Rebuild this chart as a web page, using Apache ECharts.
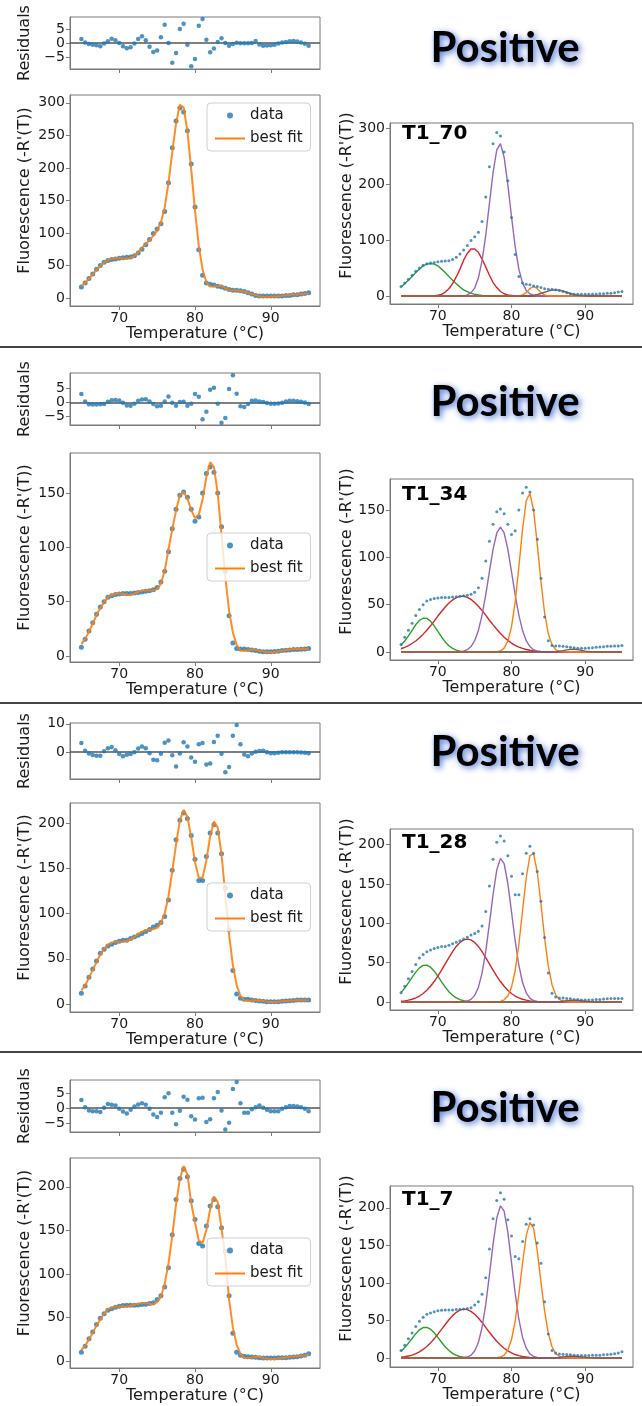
<!DOCTYPE html>
<html><head><meta charset="utf-8">
<script src="https://cdn.jsdelivr.net/npm/echarts@6.0.0/dist/echarts.min.js"></script>
<style>html,body{margin:0;padding:0;background:#fff}#c{width:642px;height:1406px}</style>
</head><body><div id="c"></div><script>
// ---------------- DATA ----------------
const temps = [65,65.5,66,66.5,67,67.5,68,68.5,69,69.5,70,70.5,71,71.5,72,72.5,73,73.5,74,74.5,75,75.5,76,76.5,77,77.5,78,78.5,79,79.5,80,80.5,81,81.5,82,82.5,83,83.5,84,84.5,85,85.5,86,86.5,87,87.5,88,88.5,89,89.5,90,90.5,91,91.5,92,92.5,93,93.5,94,94.5,95];
const xTickValues = [70,80,90];
const sampleNames = ['T1_70','T1_34','T1_28','T1_7'];
const statusText = 'Positive';

// T1_70
const t170Data = [17,23,30,37,44,50,55,57.5,59,60, 61,62,62.5,63,65,69,75,82,90,99, 106,114,133,177,231,272,292,286,257,206, 140,74,35,23,21,20,18,17,15,13, 12,12,11,10,8,6,4,3,3,3, 3,3,3,3,4,4,5,5,6,7, 8];
const t170Fit = [18.4,23.2,29.6,36.4,43.2,48.8,54.8,58.1,60.5,61, 61,60.8,60.6,61.5,64.8,70.4,77.4,83,88.7,95.8, 103.3,116.1,139.5,177,223.9,268.4,297,292.9,256.4,197.7, 134.3,80.2,43.6,24.2,17.7,18,18.4,18.7,15,12, 11.6,12.1,10.9,9.9,7.9,6,4.7,2.5,2,2.1, 2.2,2.4,2.8,3.2,4.4,4.6,5.7,5.5,6.2,6.7, 7];
const t170Resid = [1.4,0.2,-0.4,-0.6,-0.8,-1.2,-0.2,0.6,1.5,1.0, 0,-1.2,-1.9,-1.5,-0.2,1.4,2.4,1.0,-1.3,-3.2, -2.7,2.1,6.5,0,-7.1,-3.6,5.0,6.9,-0.6,-8.3, -5.7,6.2,8.6,1.2,-3.3,-2.0,0.4,1.7,0,-1.0, -0.4,0.1,-0.1,-0.1,-0.1,0,0.7,-0.5,-1.0,-0.9, -0.8,-0.6,-0.2,0.2,0.4,0.6,0.7,0.5,0.2,-0.3, -1.0];
const t170Green = [16,22,28,35,42,48,54,57,58,57, 54,48,42,35,28,22,16,11,8,5, 3,2,1,0.5,0,0,0,0,0,0, 0,0,0,0,0,0,0,0,0,0, 0,0,0,0,0,0,0,0,0,0, 0,0,0,0,0,0,0,0,0,0, 0];
const t170Red = [0,0,0,0,0,0,0,0,0,0.5, 1.5,3,7,13,22,34,48,64,76,84, 84,78,66,52,37,24,15,8,4,2, 1,0,0,0,0,0,0,0,0,0, 0,0,0,0,0,0,0,0,0,0, 0,0,0,0,0,0,0,0,0,0, 0];
const t170Purple = [0,0,0,0,0,0,0,0,0,0, 0,0,0,0,0,0,0,0,2,6, 14,32,63,108,165,221,261,272,248,199, 142,88,48,23,10,4,1,0,0,0, 0,0,0,0,0,0,0,0,0,0, 0,0,0,0,0,0,0,0,0,0, 0];
const t170Orange = [0,0,0,0,0,0,0,0,0,0, 0,0,0,0,0,0,0,0,0,0, 0,0,0,0,0,0,0,0,0,0, 0,0,0.3,2,6,13,17,13,6,2, 0.3,0,0,0,0,0,0,0,0,0, 0,0,0,0,0,0,0,0,0,0, 0];
const t170Brown = [0,0,0,0,0,0,0,0,0,0, 0,0,0,0,0,0,0,0,0,0, 0,0,0,0,0,0,0,0,0,0, 0,0,0,0,0,0,1.5,2.7,4.5,6.7, 8.8,10.4,11,10.4,8.8,6.7,4.5,2.7,1.5,0.7, 0.3,0,0,0,0,0,0,0,0,0, 0];

// T1_34
const t134Data = [8,15.5,23,30.5,38.5,45,50,54,55.5,56.5, 57,57.5,57.5,57.5,58,58.5,59,59.5,60,61, 63,68,78,96,117,135,148,151,146,135, 124,128,150,168,174,169,150,119,78,37, 12,7,6.5,6.5,6,5.5,5,4.5,4,4, 4,4.2,4.5,5,5.2,5.5,6,6,6.3,6.5, 7];
const t134Fit = [10.9,15.8,22.3,29.7,37.7,44.3,49.4,54.2,56.2,57.3, 57.6,57.3,56.4,56.3,57.5,59,60,60.6,60.3,60.4, 61.6,66.8,78.3,98,116.8,133.8,148.1,151.2,144.8,134.5, 126.9,129.9,144,164.7,178.4,174.1,149.5,111.8,72.5,41.7, 21.5,10,5.1,4.8,5.4,6,5.6,4.8,4.1,3.7, 3.5,3.7,4.1,4.8,5.5,6,6.5,6.4,6.5,6.4, 6.4];
const t134Resid = [2.9,0.3,-0.7,-0.8,-0.8,-0.7,-0.6,0.2,0.7,0.8, 0.6,-0.2,-1.1,-1.2,-0.5,0.5,1.0,1.1,0.3,-0.6, -1.4,-1.2,0.3,2.0,-0.2,-1.2,0.1,0.2,-1.2,-0.5, 2.9,1.9,-6.0,-3.3,4.4,5.1,-0.5,-7.2,-5.5,4.7, 9.5,3.0,-1.4,-1.7,-0.6,0.5,0.6,0.3,0.1,-0.3, -0.5,-0.5,-0.4,-0.2,0.3,0.5,0.5,0.4,0.2,-0.1, -0.6];
const t134Green = [7.4,11.7,17,23,29,33.4,35.7,35.5,32.6,27.7, 21.8,15.9,10.7,6.7,3.9,2.1,1,0.4,0.2,0, 0,0,0,0,0,0,0,0,0,0, 0,0,0,0,0,0,0,0,0,0, 0,0,0,0,0,0,0,0,0,0, 0,0,0,0,0,0,0,0,0,0, 0];
const t134Red = [3.5,5,6.7,9,11.7,15,18.9,23,27.7,32.7, 38,42.8,47.5,51.7,55,57.5,58.8,58.9,57.8,55.6, 52.3,48.4,43.8,39,33.6,28.7,24,19.5,15.6,12.3, 9.5,7.1,5.2,3.8,2.7,1.9,1.3,0.9,0.6,0.4, 0.2,0,0,0,0,0,0,0,0,0, 0,0,0,0,0,0,0,0,0,0, 0];
const t134Purple = [0,0,0,0,0,0,0,0,0,0, 0,0,0,0,0,0,0,1,2.5,5.8, 12,22.7,39,60.4,85,108.6,125.7,132,125.7,108.6, 85,60.4,39,22.7,12,5.8,2.5,1,0.3,0, 0,0,0,0,0,0,0,0,0,0, 0,0,0,0,0,0,0,0,0,0, 0];
const t134Orange = [0,0,0,0,0,0,0,0,0,0, 0,0,0,0,0,0,0,0,0,0, 0,0,0,0,0,0,0.3,1.3,4.1,11.4, 26.6,53,89.7,129.7,159.7,167.5,149.7,114,74.3,41, 19.3,7.7,2.6,0.8,0.2,0,0,0,0,0, 0,0,0,0,0,0,0,0,0,0, 0];
const t134Brown = [0,0,0,0,0,0,0,0,0,0, 0,0,0,0,0,0,0,0,0,0, 0,0,0,0,0,0,0,0,0,0, 0,0,0,0,0,0,0,0,0,0, 0,0,0.3,0.8,1.5,2.3,2.8,3,2.6,1.8, 1,0.5,0.2,0,0,0,0,0,0,0, 0];

// T1_28
const t128Data = [11.8,20,29.5,38.7,47.6,56,60.5,64,66,68, 69.4,70.5,70.5,72.3,74,76,77.9,80,82.3,85.2, 87,90,96.7,115,147.6,181.5,203,211,204.8,186, 160,136.5,136.5,163,189,198,189,166,128,82, 37,11,6.3,5.2,5.2,4.4,4,3.3,3,2.6, 2.6,2.6,2.6,3,3.3,3.7,4,4.4,4.4,4.4, 4.4];
const t128Fit = [15,20.5,29,37.7,46.3,54.7,60.8,65.4,67.8,68.7, 68.7,69,69.6,71.6,74,77.3,79.9,81.4,81.9,82.5, 84.1,89.4,100,119.1,146.5,176.4,202.5,214.5,206.8,184.1, 156.6,139.3,139.7,158.6,185,201.6,194.8,165.4,120.9,76.7, 42.8,20.6,9.1,4.4,3.7,3.9,4.1,3.7,3.5,2.6, 2.2,2.2,2.4,3,3.3,3.7,4,4.4,4.3,4.2, 4];
const t128Resid = [3.2,0.5,-0.5,-1.0,-1.3,-1.3,0.3,1.4,1.8,0.7, -0.7,-1.5,-0.9,-0.7,0,1.3,2.0,1.4,-0.4,-2.7, -2.9,-0.6,3.3,4.1,-1.1,-5.1,-0.5,3.5,2.0,-1.9, -3.4,2.8,3.2,-4.4,-4.0,3.6,5.8,-0.6,-7.1,-5.3, 5.8,9.6,2.8,-0.8,-1.5,-0.5,0.1,0.4,0.5,0, -0.4,-0.4,-0.2,0,0,0,0,0,-0.1,-0.2, -0.4];
const t128Green = [12,17.6,24.3,31.4,38,43.4,46.5,46.8,44.2,39.3, 32.8,25.7,18.9,13,8.5,5.2,3,1.6,0.8,0.4, 0.2,0,0,0,0,0,0,0,0,0, 0,0,0,0,0,0,0,0,0,0, 0,0,0,0,0,0,0,0,0,0, 0,0,0,0,0,0,0,0,0,0, 0];
const t128Red = [0.9,1.4,2.3,3.5,5.3,7.6,10.8,14.9,20,26, 32.9,40.5,48.5,56.5,64,70.6,75.7,78.9,80,78.9, 75.7,70.6,64,56.5,48.5,40.5,32.9,26,20,14.9, 10.8,7.6,5.3,3.5,2.3,1.4,0.9,0.5,0.3,0, 0,0,0,0,0,0,0,0,0,0, 0,0,0,0,0,0,0,0,0,0, 0];
const t128Purple = [0,0,0,0,0,0,0,0,0,0, 0,0,0,0,0,0,0,0.3,1.2,3.3, 8.4,18.5,36.7,64,99.7,137,168,182.6,176,151, 114.7,77.6,46.5,24.8,11.7,4.9,1.8,0.6,0,0, 0,0,0,0,0,0,0,0,0,0, 0,0,0,0,0,0,0,0,0,0, 0];
const t128Orange = [0,0,0,0,0,0,0,0,0,0, 0,0,0,0,0,0,0,0,0,0, 0,0,0,0,0,0,0.2,0.8,2.7,7.6, 18.9,40,73.4,116,158,186,188.8,165,125,81, 45.6,22,9.1,3.3,1,0.3,0,0,0,0, 0,0,0,0,0,0,0,0,0,0, 0];
const t128Brown = [0,0,0,0,0,0,0,0,0,0, 0,0,0,0,0,0,0,0,0,0, 0,0,0,0,0,0,0,0,0,0, 0,0,0,0,0,0,0,0,0,0, 0,0,0,0.5,1,1.5,2,2.2,2,1.5, 1,0.5,0.2,0,0,0,0,0,0,0, 0];

// T1_7
const t17Data = [10,17,25.7,33.3,41.8,49,54.4,58.2,60,61.7, 62.8,63.6,64,64,64,64.4,64.8,65.1,65.9,67, 70.5,75,85,107,145,185.4,209.6,220,211.5,184, 162.5,135,132,155,178,185.4,177,153,126,75, 32,10,6.5,5.4,5,4.6,4.2,3.8,3.4,3.4, 3.4,3.4,3.8,3.8,3.8,4.2,4.6,5,5.7,6.5, 8.4];
const t17Fit = [12.7,17.3,24.9,32.3,40.8,47.7,54.5,59.6,61.1,62.6, 62.6,62.5,62.2,63.5,64.5,65.6,66.4,66.2,65.7,64.9, 67.6,73.5,88.6,111.9,143.5,180.1,208.7,223.8,214.3,181.3, 158.7,138.3,135.4,150.4,174.3,188.7,182.3,152.2,118.9,70.2, 38.3,18.6,8.1,3.9,3.5,4.2,4.5,4.7,3.5,2.9, 2.4,2.4,2.8,3.6,4.1,4.9,5.3,5.5,6.0,6.3, 7.4];
const t17Resid = [2.7,0.3,-0.8,-1.0,-1.0,-1.3,0.1,1.4,1.1,0.9, -0.2,-1.1,-1.8,-0.5,0.5,1.2,1.6,1.1,-0.2,-2.1, -2.9,-1.5,3.6,4.9,-1.5,-5.3,-0.9,3.8,2.8,-2.7, -3.8,3.3,3.4,-4.6,-3.7,3.3,5.3,-0.8,-7.1,-4.8, 6.3,8.6,1.6,-1.5,-1.5,-0.4,0.3,0.9,0.1,-0.5, -1.0,-1.0,-1.0,-0.2,0.3,0.7,0.7,0.5,0.3,-0.2, -1.0];
const t17Green = [9,13.9,19.7,26,32.4,37.5,40.5,40.8,38.3,33.6, 27.5,21,15,9.9,6.1,3.6,1.9,1,0.5,0.2, 0,0,0,0,0,0,0,0,0,0, 0,0,0,0,0,0,0,0,0,0, 0,0,0,0,0,0,0,0,0,0, 0,0,0,0,0,0,0,0,0,0, 0];
const t17Red = [1.1,1.7,2.6,3.9,5.8,8.2,11.4,15.3,20.1,25.5, 31.7,38.1,44.6,50.9,56.4,60.8,63.7,65,64.4,62.1, 58.3,53.2,47.2,40.7,34.2,27.9,22.2,17.2,12.9,9.4, 6.7,4.6,3.1,2,1.3,0.8,0.5,0.3,0,0, 0,0,0,0,0,0,0,0,0,0, 0,0,0,0,0,0,0,0,0,0, 0];
const t17Purple = [0,0,0,0,0,0,0,0,0,0, 0,0,0,0,0,0,0,0.3,1.3,3.7, 9.3,20.5,40.6,71,110.6,152,186.4,202.6,195.5,167.5, 127.3,86,51.6,27.4,13,5.5,2,0.7,0,0, 0,0,0,0,0,0,0,0,0,0, 0,0,0,0,0,0,0,0,0,0, 0];
const t17Orange = [0,0,0,0,0,0,0,0,0,0, 0,0,0,0,0,0,0,0,0,0, 0,0,0,0,0,0,0.3,1.3,3.9,10.5, 24.5,48.9,85,126.5,163,180.5,172.7,142.5,101,62.3, 33,15,5.9,2,0.6,0.2,0,0,0,0, 0,0,0,0,0,0,0,0,0,0, 0];
const t17Brown = [0,0,0,0,0,0,0,0,0,0, 0,0,0,0,0,0,0,0,0,0, 0,0,0,0,0,0,0,0,0,0, 0,0,0,0,0,0,0,0,0,0, 0,0,0.3,0.8,1.5,2,2.3,2.3,2,1.5, 1,0.5,0.2,0,0,0,0,0,0,0, 0];

const residTicks = [[-5,0,5],[-5,0,5],[0,10],[-5,0,5]];
const mainTicks = [[0,50,100,150,200,250,300],[0,50,100,150],[0,50,100,150,200],[0,50,100,150,200]];
const decompTicks = [[0,100,200,300],[0,50,100,150],[0,50,100,150,200],[0,50,100,150,200]];

// ---------------- LAYOUT / STYLE ----------------
const panels = [
  {data:t170Data, fit:t170Fit, resid:t170Resid, comps:[t170Green,t170Red,t170Purple,t170Orange,t170Brown]},
  {data:t134Data, fit:t134Fit, resid:t134Resid, comps:[t134Green,t134Red,t134Purple,t134Orange,t134Brown]},
  {data:t128Data, fit:t128Fit, resid:t128Resid, comps:[t128Green,t128Red,t128Purple,t128Orange,t128Brown]},
  {data:t17Data, fit:t17Fit, resid:t17Resid, comps:[t17Green,t17Red,t17Purple,t17Orange,t17Brown]}
];
const layout = [
  {res:[17,52], main:[95,211], dec:[123,181], resY:[-9.3,9.3], mainY:[-12.3,312], decY:[-14.3,309], leg:103, tag:134, pos:48, sep:347},
  {res:[373,52], main:[453,209], dec:[479,181], resY:[-8,10.3], mainY:[-5.5,186.8], decY:[-8.4,182.7], leg:533, tag:495, pos:402, sep:703},
  {res:[723,56], main:[803,209], dec:[829,181], resY:[-9.5,10.3], mainY:[-8.8,222], decY:[-10.2,220], leg:883, tag:843, pos:752, sep:1052},
  {res:[1080,52], main:[1158,210], dec:[1186,181], resY:[-7.9,9.3], mainY:[-8,233], decY:[-12,229], leg:1238, tag:1200, pos:1108, sep:null}
];
const COL = {blue:'#1f77b4', orange:'#ff7f0e', green:'#2ca02c', red:'#d62728', purple:'#9467bd', brown:'#8c564b'};
const compColors = [COL.green, COL.red, COL.purple, COL.orange, COL.brown];
const FONT = 'DejaVu Sans';
const AX = '#7a7a7a';
const TXT = '#1a1a1a';
const fmt = v => v < 0 ? '\u2212' + Math.abs(v) : String(v);
const zip = vals => temps.map((t, i) => [t, vals[i]]);

const grids = [], xAxes = [], yAxes = [], series = [], legends = [], graphics = [];

function addAxes(gi, ticks, yr, showXLabel, yName, yGap, yShift) {
  xAxes.push({
    gridIndex: gi, type: 'value', min: 63.5, max: 96.5,
    axisLine: {show: true, onZero: false, lineStyle: {color: AX, width: 1}},
    axisTick: {show: true, length: 4, customValues: xTickValues, lineStyle: {color: AX}},
    axisLabel: {show: showXLabel, customValues: xTickValues, fontSize: 14, color: TXT, fontFamily: FONT, margin: 5},
    splitLine: {show: false},
    name: showXLabel ? 'Temperature (°C)' : '', nameLocation: 'middle', nameGap: 17,
    nameTextStyle: {fontSize: 16, color: TXT, fontFamily: FONT}
  });
  yAxes.push({
    gridIndex: gi, type: 'value', min: yr[0], max: yr[1],
    axisLine: {show: true, onZero: false, lineStyle: {color: AX, width: 1}},
    axisTick: {show: true, length: 4, customValues: ticks, lineStyle: {color: AX}},
    axisLabel: {customValues: ticks, fontSize: 14, color: TXT, fontFamily: FONT, margin: 5, formatter: fmt},
    splitLine: {show: false},
    name: yName, nameLocation: 'middle', nameRotate: 90, nameGap: yGap,
    nameTextStyle: {fontSize: 16, color: TXT, fontFamily: FONT, padding: [0, 0, 0, yShift * 2]}
  });
}

panels.forEach((p, k) => {
  const L = layout[k];
  const gR = k * 3, gM = k * 3 + 1, gD = k * 3 + 2;
  grids.push({left: 70, width: 250, top: L.res[0], height: L.res[1], show: true, borderColor: AX, borderWidth: 1});
  grids.push({left: 70, width: 250, top: L.main[0], height: L.main[1], show: true, borderColor: AX, borderWidth: 1});
  grids.push({left: 390, width: 243, top: L.dec[0], height: L.dec[1], show: true, borderColor: AX, borderWidth: 1});
  addAxes(gR, residTicks[k], L.resY, false, 'Residuals', 37, 0);
  addAxes(gM, mainTicks[k], L.mainY, true, "Fluorescence (-R'(T))", 37, 10);
  addAxes(gD, decompTicks[k], L.decY, true, "Fluorescence (-R'(T))", 32, 18);

  // residuals
  series.push({
    type: 'scatter', name: 'residuals' + k, xAxisIndex: gR, yAxisIndex: gR, data: zip(p.resid),
    symbolSize: 4.5, itemStyle: {color: COL.blue}, silent: true, z: 3,
    markLine: {silent: true, symbol: 'none', label: {show: false}, lineStyle: {color: '#555', width: 1.5, type: 'solid'}, data: [{yAxis: 0}], z: 2}
  });
  // main: data + best fit
  series.push({type: 'scatter', name: 'data', xAxisIndex: gM, yAxisIndex: gM, data: zip(p.data), symbolSize: 5, itemStyle: {color: COL.blue}, z: 2});
  series.push({type: 'line', name: 'best fit', xAxisIndex: gM, yAxisIndex: gM, data: zip(p.fit), symbol: 'none', showSymbol: false,
    lineStyle: {color: COL.orange, width: 2, opacity: 0.9}, itemStyle: {color: COL.orange}, z: 3});
  // decomposition
  p.comps.forEach((c, ci) => {
    series.push({type: 'line', name: sampleNames[k] + '_comp' + ci, xAxisIndex: gD, yAxisIndex: gD, data: zip(c),
      symbol: 'none', showSymbol: false, lineStyle: {color: compColors[ci], width: 1.4}, z: 2 + ci * 0.1, silent: true});
  });
  series.push({type: 'scatter', name: sampleNames[k] + '_data', xAxisIndex: gD, yAxisIndex: gD, data: zip(p.data),
    symbolSize: 3, itemStyle: {color: COL.blue}, z: 4, silent: true});

  legends.push({
    left: 207, top: L.leg, orient: 'vertical', itemWidth: 30, itemHeight: 6, itemGap: 8,
    padding: [5, 8, 5, 8], backgroundColor: 'rgba(255,255,255,0.8)', borderColor: '#cfcfcf', borderWidth: 1, borderRadius: 4,
    textStyle: {fontSize: 15, color: TXT, fontFamily: FONT}, selectedMode: false, symbolKeepAspect: true,
    data: [{name: 'data', icon: 'circle'}, {name: 'best fit', icon: 'path://M0,0H30V2H0Z', itemStyle: {color: COL.orange}}]
  });

  graphics.push({type: 'text', x: 402, y: L.tag, style: {text: sampleNames[k], font: 'bold 20px "DejaVu Sans"', fill: '#000', textAlign: 'left', textVerticalAlign: 'middle'}, z: 100});
  graphics.push({type: 'text', x: 505, y: L.pos, style: {text: statusText, font: 'bold 42px Lato', fill: '#000', textAlign: 'center', textVerticalAlign: 'middle',
    textShadowColor: 'rgba(50,100,210,0.9)', textShadowBlur: 6, textShadowOffsetX: 2, textShadowOffsetY: 2}, z: 100});
  if (L.sep !== null) {
    graphics.push({type: 'line', shape: {x1: 0, y1: L.sep, x2: 642, y2: L.sep}, style: {stroke: '#444', lineWidth: 2}, z: 100});
  }
});

const chart = echarts.init(document.getElementById('c'), null, {renderer: 'canvas'});
chart.setOption({
  backgroundColor: '#fff',
  animation: false,
  grid: grids, xAxis: xAxes, yAxis: yAxes, series: series, legend: legends, graphic: graphics
});
</script></body></html>
